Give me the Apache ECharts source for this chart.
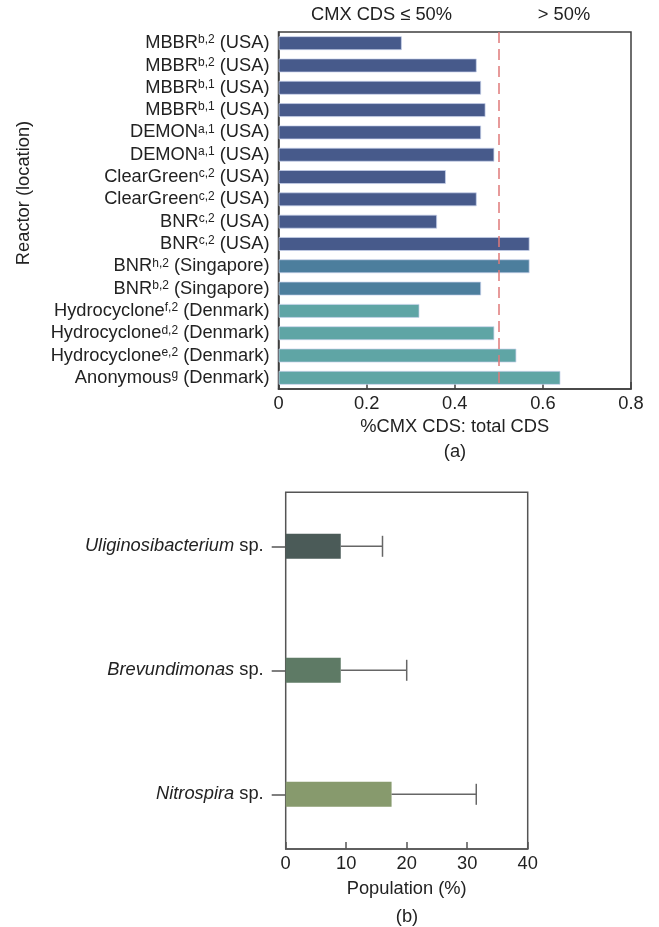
<!DOCTYPE html>
<html>
<head>
<meta charset="utf-8">
<script src="https://cdn.jsdelivr.net/npm/echarts@6/dist/echarts.min.js"></script>
<style>
html,body{margin:0;padding:0;background:#fff;}
#chart{width:659px;height:927px;}
</style>
</head>
<body>
<div id="chart"></div>
<script>
// ---- Panel (a) data ----
const reactorNames = ['MBBR','MBBR','MBBR','MBBR','DEMON','DEMON','ClearGreen','ClearGreen','BNR','BNR','BNR','BNR','Hydrocyclone','Hydrocyclone','Hydrocyclone','Anonymous'];
const reactorSup = ['b,2','b,2','b,1','b,1','a,1','a,1','c,2','c,2','c,2','c,2','h,2','b,2','f,2','d,2','e,2','g'];
const reactorLocation = ['USA','USA','USA','USA','USA','USA','USA','USA','USA','USA','Singapore','Singapore','Denmark','Denmark','Denmark','Denmark'];
const cdsRatio = [0.28,0.45,0.46,0.47,0.46,0.49,0.38,0.45,0.36,0.57,0.57,0.46,0.32,0.49,0.54,0.64];
const thresholdValue = 0.5;
const xTicksA = [0, 0.2, 0.4, 0.6, 0.8];

// ---- Panel (b) data ----
const species = ['Uliginosibacterium','Brevundimonas','Nitrospira'];
const popMean = [9.1, 9.1, 17.5];
const popSD = [6.9, 10.9, 14.0];
const xTicksB = [0, 10, 20, 30, 40];

const locationColor = {USA:'#475a8b', Singapore:'#4c7e9d', Denmark:'#5fa5a5'};
const speciesColor = ['#4b5b58','#5e7a65','#879a6d'];

const FONT = "'Liberation Sans', Arial, sans-serif";
const FS = 18.3;
const TXT = '#222';

const chart = echarts.init(document.getElementById('chart'), null, {renderer:'canvas'});

const option = {
  backgroundColor:'#fff',
  animation:false,
  textStyle:{fontFamily:FONT, color:TXT},
  grid:[
    {left:278.5, top:32, width:352.5, height:357, show:true, borderColor:'#3f3f3f', borderWidth:1.5, backgroundColor:'transparent'},
    {left:285.7, top:492.3, width:242, height:356.7, show:true, borderColor:'#555', borderWidth:1.5, backgroundColor:'transparent'},
    {left:285.7, top:484.3, width:242, height:372}
  ],
  xAxis:[
    {gridIndex:0, type:'value', min:xTicksA[0], max:xTicksA[xTicksA.length-1], interval:0.2,
     axisLine:{show:true, lineStyle:{color:'#3f3f3f', width:1.5}},
     axisTick:{show:true, inside:true, length:7, lineStyle:{color:'#3f3f3f', width:1.5}},
     axisLabel:{fontSize:FS, color:TXT, fontFamily:FONT, margin:6, formatter:v=>String(v)},
     splitLine:{show:false},
     name:'%CMX CDS: total CDS', nameLocation:'middle', nameGap:29,
     nameTextStyle:{fontSize:FS, color:TXT, fontFamily:FONT}},
    {gridIndex:1, type:'value', min:xTicksB[0], max:xTicksB[xTicksB.length-1], interval:10,
     axisLine:{show:true, lineStyle:{color:'#555', width:1.5}},
     axisTick:{show:true, inside:true, length:7, lineStyle:{color:'#555', width:1.5}},
     axisLabel:{fontSize:FS, color:TXT, fontFamily:FONT, margin:6},
     splitLine:{show:false},
     name:'Population (%)', nameLocation:'middle', nameGap:31,
     nameTextStyle:{fontSize:FS, color:TXT, fontFamily:FONT}},
    {gridIndex:2, type:'value', min:xTicksB[0], max:xTicksB[xTicksB.length-1], show:false}
  ],
  yAxis:[
    {gridIndex:0, type:'category', inverse:true,
     data:reactorNames.map((n,i)=>i),
     axisLine:{show:true, lineStyle:{color:'#3f3f3f', width:1.5}},
     axisTick:{show:true, inside:true, length:7, alignWithLabel:true, interval:0, lineStyle:{color:'#3f3f3f', width:1.5}},
     axisLabel:{margin:9, interval:0, hideOverlap:false, fontSize:FS, color:TXT, fontFamily:FONT, lineHeight:18,
       formatter:(v,i)=>reactorNames[i]+'{sup|'+reactorSup[i]+'} ('+reactorLocation[i]+')',
       rich:{sup:{fontSize:12, color:TXT, fontFamily:FONT, verticalAlign:'top', lineHeight:18}}
     }},
    {gridIndex:1, type:'value', min:0, max:1, show:false},
    {gridIndex:2, type:'category', inverse:true, data:species,
     axisLine:{show:false},
     axisTick:{show:true, inside:false, length:14, alignWithLabel:true, lineStyle:{color:'#555', width:1.5}},
     axisLabel:{margin:22, interval:0, fontSize:FS, color:TXT, fontFamily:FONT,
       formatter:v=>'{it|'+v+'} sp.',
       rich:{it:{fontStyle:'italic', fontSize:FS, color:TXT, fontFamily:FONT}}}}
  ],
  series:[
    {type:'bar', xAxisIndex:0, yAxisIndex:0, barWidth:'63%',
     data:cdsRatio.map((v,i)=>({value:v, itemStyle:{color:locationColor[reactorLocation[i]]}})),
     itemStyle:{borderColor:'rgba(200,210,235,0.7)', borderWidth:1},
     markLine:{silent:true, symbol:'none', label:{show:false},
       lineStyle:{color:'#e07a7a', type:[11,6], width:1.5},
       data:[{xAxis:thresholdValue}]}},
    {type:'bar', xAxisIndex:2, yAxisIndex:2, barWidth:25,
     data:popMean.map((v,i)=>({value:v, itemStyle:{color:speciesColor[i]}}))},
    {type:'custom', xAxisIndex:2, yAxisIndex:2, z:3,
     data:popMean.map((m,i)=>[i, m, m+popSD[i]]),
     renderItem:(params, api)=>{
       const idx = api.value(0);
       const p0 = api.coord([api.value(1), idx]);
       const p1 = api.coord([api.value(2), idx]);
       const h = 10.5;
       const st = {stroke:'#666', lineWidth:1.5};
       return {type:'group', children:[
         {type:'line', shape:{x1:p0[0], y1:p0[1], x2:p1[0], y2:p1[1]}, style:st},
         {type:'line', shape:{x1:p1[0], y1:p1[1]-h, x2:p1[0], y2:p1[1]+h}, style:st}
       ]};
     }}
  ],
  graphic:[
    {type:'text', x:381.5, y:15, style:{text:'CMX CDS ≤ 50%', font:FS+'px '+FONT, fill:TXT, align:'center', verticalAlign:'middle'}},
    {type:'text', x:564, y:15, style:{text:'> 50%', font:FS+'px '+FONT, fill:TXT, align:'center', verticalAlign:'middle'}},
    {type:'text', x:24, y:193, rotation:Math.PI/2, style:{text:'Reactor (location)', font:FS+'px '+FONT, fill:TXT, align:'center', verticalAlign:'middle'}},
    {type:'text', x:455, y:452, style:{text:'(a)', font:FS+'px '+FONT, fill:TXT, align:'center', verticalAlign:'middle'}},
    {type:'text', x:407, y:917, style:{text:'(b)', font:FS+'px '+FONT, fill:TXT, align:'center', verticalAlign:'middle'}}
  ]
};
chart.setOption(option);
</script>
</body>
</html>
